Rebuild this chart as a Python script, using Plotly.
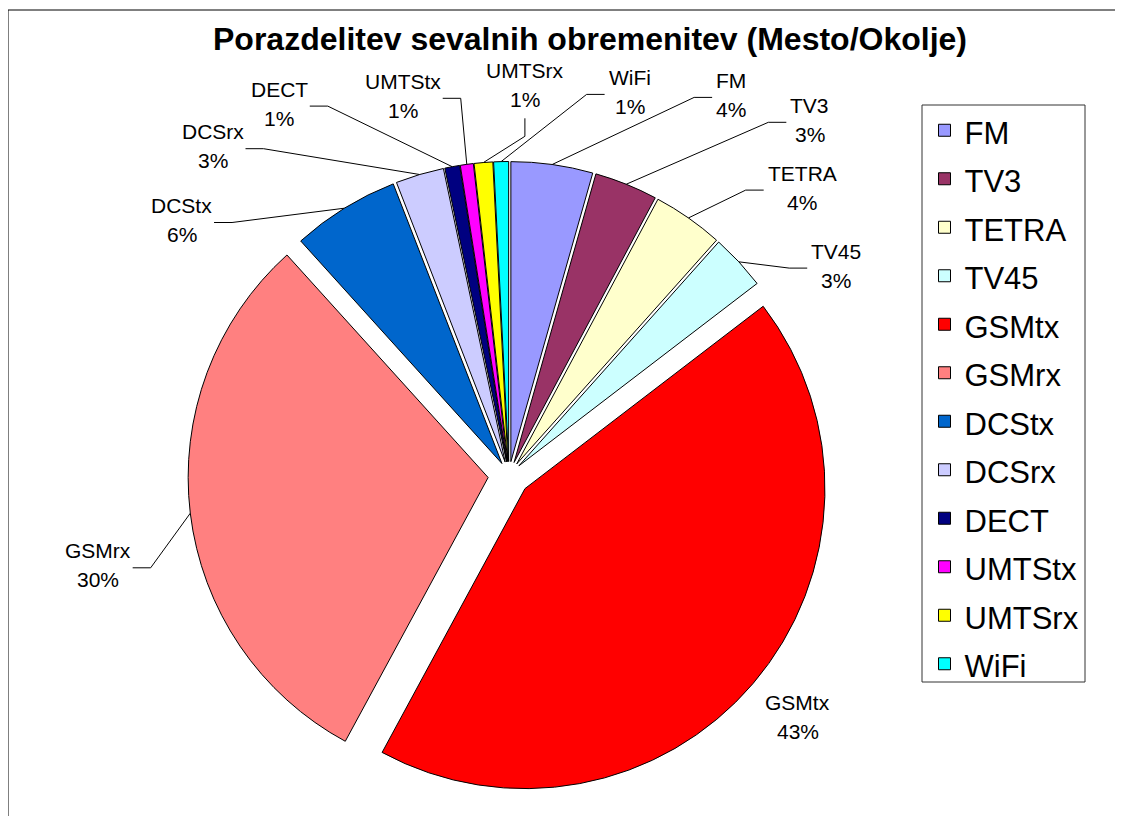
import math
import plotly.graph_objects as go

# ---------------- data ----------------
categories = ["FM", "TV3", "TETRA", "TV45", "GSMtx", "GSMrx",
              "DCStx", "DCSrx", "DECT", "UMTStx", "UMTSrx", "WiFi"]
shares = [4.4, 3.4, 3.8, 3.0, 43.3, 30.4, 5.8, 2.6, 0.8, 0.7, 1.0, 0.8]
colors = ["#9999FF", "#993366", "#FFFFCC", "#CCFFFF", "#FF0000", "#FF8080",
          "#0066CC", "#CCCCFF", "#000080", "#FF00FF", "#FFFF00", "#00FFFF"]
title_text = "Porazdelitev sevalnih obremenitev (Mesto/Okolje)"

# ---------------- layout / style ----------------
OFF = 8                      # page body margin (px)
FW, FH = 1123 - OFF, 816 - OFF
CX, CY, R = 509, 475, 300    # pie centre / radius in window pixels
pulls = [0.045, 0.045, 0.045, 0.045, 0.07, 0.07, 0.045, 0.045, 0.045, 0.045, 0.045, 0.045]
FONT = "Arial, Liberation Sans, sans-serif"
LABEL_SIZE = 21
LEGEND_TEXT = 31
LINE_GAP = 14.5

# label block centres, relative to pie centre, in radii
label_dx = [0.741, 1.002, 0.977, 1.091, 0.962, -1.370, -1.091, -0.988, -0.766, -0.354, 0.053, 0.402]
label_dy = [-1.267, -1.184, -0.958, -0.698, 0.806, 0.301, -0.850, -1.096, -1.238, -1.264, -1.299, -1.277]
label_side = ["R", "R", "R", "R", None, "L", "L", "L", "L", "L", "B", "R"]

ARIAL_W = {'A': .667, 'B': .667, 'C': .722, 'D': .722, 'E': .667, 'F': .611, 'G': .778,
           'M': .833, 'R': .722, 'S': .667, 'T': .611, 'U': .722, 'V': .667, 'W': .944,
           'i': .222, 'r': .333, 't': .278, 'x': .5, '%': .889}


def text_w(s, size):
    return sum(ARIAL_W.get(ch, .556) for ch in s) * size


def paper(x, y):
    return (x - OFF) / FW, 1 - (y - OFF) / FH


maxpull = max(pulls)
half = R * (1 + maxpull)
dx0, dy1 = paper(CX - half, CY - half)
dx1, dy0 = paper(CX + half, CY + half)

total = sum(shares)

fig = go.Figure()
fig.add_trace(go.Pie(
    labels=[f'<span style="font-size:{LEGEND_TEXT}px">{c}</span>' for c in categories],
    values=shares,
    sort=False,
    direction="clockwise",
    rotation=0,
    pull=pulls,
    marker=dict(colors=colors, line=dict(color="#000000", width=1)),
    textinfo="none",
    hoverinfo="label+percent",
    domain=dict(x=[dx0, dx1], y=[dy0, dy1]),
    showlegend=True,
))

annotations = []
shapes = []
cum = 0.0
for i, (cat, v) in enumerate(zip(categories, shares)):
    frac = v / total
    mid = (cum + frac / 2) * 2 * math.pi
    cum += frac
    pct = f"{round(frac * 100)}%"
    pcx = CX + pulls[i] * R * math.sin(mid)
    pcy = CY - pulls[i] * R * math.cos(mid)
    ax_ = pcx + R * math.sin(mid)
    ay_ = pcy - R * math.cos(mid)
    lx = CX + label_dx[i] * R
    ly = CY + label_dy[i] * R
    for txt, yy in ((cat, ly - LINE_GAP), (pct, ly + LINE_GAP)):
        px, py = paper(lx, yy)
        annotations.append(dict(x=px, y=py, xref="paper", yref="paper",
                                text=txt, showarrow=False,
                                xanchor="center", yanchor="middle",
                                font=dict(family=FONT, size=LABEL_SIZE, color="#000000")))
    w = max(text_w(cat, LABEL_SIZE), text_w(pct, LABEL_SIZE))
    side = label_side[i]
    if side is None:
        continue
    if side == "L":
        ex, ey = lx + w / 2 + 2, ly + 2.5
        bx, by = ex + 18, ey
    elif side == "R":
        ex, ey = lx - w / 2 - 4, ly + 2.5
        bx, by = ex - 18, ey
    else:
        ex, ey = lx, ly + 33
        bx, by = lx, ly + 51
    p0 = paper(ax_, ay_)
    p1 = paper(bx, by)
    p2 = paper(ex, ey)
    shapes.append(dict(type="path", xref="paper", yref="paper",
                       path=f"M {p0[0]},{p0[1]} L {p1[0]},{p1[1]} L {p2[0]},{p2[1]}",
                       line=dict(color="#000000", width=1)))

# legend frame
lx0, ly0 = paper(922, 105)
lx1, ly1 = paper(1085, 682)
shapes.append(dict(type="rect", xref="paper", yref="paper", x0=lx0, y0=ly1, x1=lx1, y1=ly0,
                   line=dict(color="#333333", width=1), fillcolor="rgba(0,0,0,0)", layer="below"))
# chart frame
bx0, by0 = paper(8, 10)
shapes.append(dict(type="rect", xref="paper", yref="paper", x0=bx0, y0=-0.05, x1=1.05, y1=by0,
                   line=dict(color="#000000", width=1), fillcolor="rgba(0,0,0,0)", layer="below"))

leg_x, leg_y = paper(924.5, 101)

fig.update_layout(
    width=FW, height=FH,
    margin=dict(l=0, r=0, t=0, b=0, pad=0),
    paper_bgcolor="#FFFFFF",
    plot_bgcolor="#FFFFFF",
    title=dict(text=f"<b>{title_text}</b>", x=(590 - OFF) / FW, xanchor="center",
               y=1 - (39 - OFF) / FH, yanchor="middle", yref="container",
               font=dict(family=FONT, size=32, color="#000000")),
    legend=dict(x=leg_x, y=leg_y, xanchor="left", yanchor="top",
                font=dict(family=FONT, size=35, color="#000000"),
                bgcolor="rgba(0,0,0,0)", borderwidth=0, traceorder="normal"),
    annotations=annotations,
    shapes=shapes,
)

fig.write_html("out.html")
